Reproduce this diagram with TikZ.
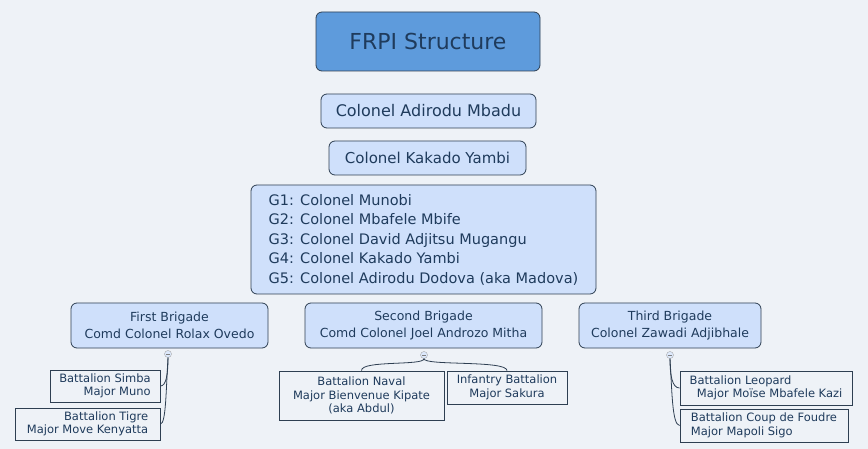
\documentclass[tikz,border=0pt]{standalone}
\usepackage{fontspec}
\setmainfont{DejaVu Sans}
\definecolor{bg}{HTML}{EEF2F7}
\definecolor{ink}{HTML}{1F3B5C}
\definecolor{lb}{HTML}{CFE0FB}
\definecolor{rootc}{HTML}{5E9BDC}
\definecolor{edge}{HTML}{2E3F52}
\tikzset{
 topic/.style={draw=edge,fill=lb,rounded corners=6pt,text=ink,align=center,inner sep=0pt,line width=0.8pt},
 leaf/.style={draw=edge,fill=bg,text=ink,inner sep=0pt,line width=0.8pt,font=\fontsize{11.5}{13.5}\selectfont},
 conn/.style={draw=edge,line width=0.8pt},
 knob/.style={circle,draw=gray!70,fill=lb!70,inner sep=0pt,minimum size=7pt}
}
\begin{document}
\begin{tikzpicture}[x=1pt,y=-1pt]
\fill[bg] (0,0) rectangle (868,449);
\useasboundingbox (0,0) rectangle (868,449);
\node[topic,fill=rootc,minimum width=224pt,minimum height=59pt,font=\fontsize{22}{26}\selectfont] (root) at (428,41.5) {FRPI Structure};
\node[topic,minimum width=215pt,minimum height=34pt,font=\fontsize{16}{19}\selectfont] (ad) at (428.5,111) {Colonel Adirodu Mbadu};
\node[topic,minimum width=197pt,minimum height=34pt,font=\fontsize{15}{18}\selectfont] (ka) at (427.5,158) {Colonel Kakado Yambi};
\node[topic,minimum width=345pt,minimum height=109pt,align=left,font=\fontsize{14.5}{19.5}\selectfont] (g) at (423.5,239.5) {G1: Colonel Munobi\\G2: Colonel Mbafele Mbife\\G3: Colonel David Adjitsu Mugangu\\G4: Colonel Kakado Yambi\\G5: Colonel Adirodu Dodova (aka Madova)};
\node[topic,minimum width=197pt,minimum height=45pt,font=\fontsize{12.5}{17}\selectfont] (b1) at (169.5,325.5) {First Brigade\\Comd Colonel Rolax Ovedo};
\node[topic,minimum width=237pt,minimum height=45pt,font=\fontsize{12.5}{17}\selectfont] (b2) at (423.5,325.5) {Second Brigade\\Comd Colonel Joel Androzo Mitha};
\node[topic,minimum width=182pt,minimum height=45pt,font=\fontsize{12.5}{17}\selectfont] (b3) at (670,325.5) {Third Brigade\\Colonel Zawadi Adjibhale};
\node[knob] (k1) at (168,354) {};
\node[knob] (k2) at (424,355) {};
\node[knob] (k3) at (670,355) {};
\node[leaf,minimum width=110pt,minimum height=32pt,align=right] (s1) at (105,386) {Battalion Simba\\Major Muno};
\node[leaf,minimum width=145pt,minimum height=32pt,align=right] (s2) at (87.5,424) {Battalion Tigre\\Major Move Kenyatta};
\node[leaf,minimum width=165pt,minimum height=49pt,align=center] (n1) at (361.5,395.5) {Battalion Naval\\Major Bienvenue Kipate\\(aka Abdul)};
\node[leaf,minimum width=120pt,minimum height=33pt,align=center] (n2) at (507,387.5) {Infantry Battalion\\Major Sakura};
\node[leaf,minimum width=172pt,minimum height=34pt,align=left] (t1) at (766,388) {Battalion Leopard\\\ \ Major Moïse Mbafele Kazi};
\node[leaf,minimum width=168pt,minimum height=33pt,align=left] (t2) at (764,425.5) {Battalion Coup de Foudre\\Major Mapoli Sigo};
\draw[conn] (k1.south) .. controls (168,375) and (166,386) .. (s1.east);
\draw[conn] (k1.south) .. controls (166,390) and (166,424) .. (s2.east);
\draw[conn] (k2.south) .. controls (424,366) and (361,360) .. (n1.north);
\draw[conn] (k2.south) .. controls (424,366) and (507,360) .. (n2.north);
\draw[conn] (k3.south) .. controls (670,375) and (672,388) .. (t1.west);
\draw[conn] (k3.south) .. controls (672,390) and (672,425) .. (t2.west);
\foreach \k in {k1,k2,k3} \draw[gray] ([xshift=-2pt]\k.center) -- ([xshift=2pt]\k.center);
\end{tikzpicture}
\end{document}
